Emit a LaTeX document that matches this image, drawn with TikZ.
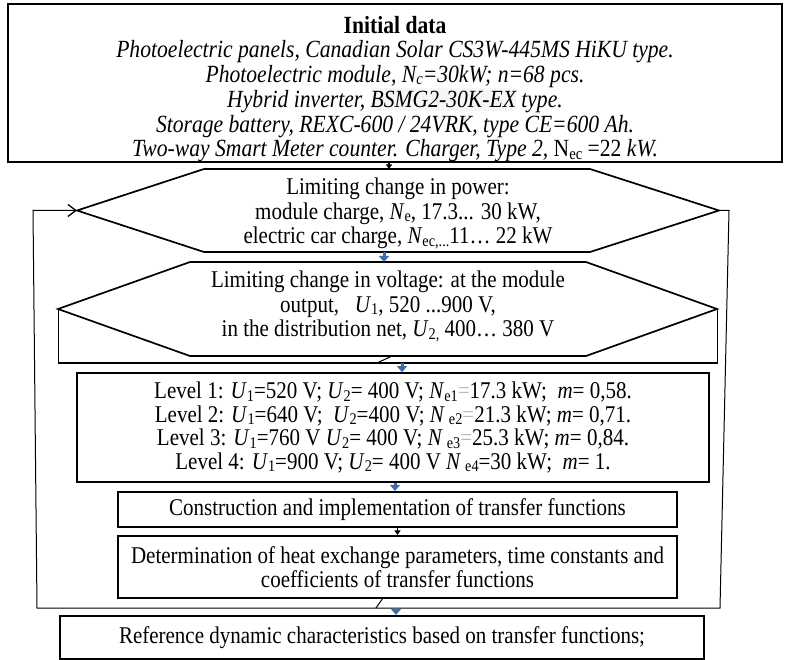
\documentclass[tikz,border=0pt]{standalone}
\usepackage{fontspec}
\usepackage{graphicx}
\setmainfont{Liberation Serif}[FakeStretch=0.875]
\usetikzlibrary{arrows.meta,calc}
% small lowered index text
\newcommand\sbs[1]{\raisebox{-0.11em}{\scalebox{0.68}{#1}}}
\definecolor{flowblue}{RGB}{62,108,168}
\begin{document}
\begin{tikzpicture}[x=1pt,y=-1pt,
  txt/.style={font=\fontsize{24}{23.5}\selectfont, align=center, inner sep=0pt},
  hextxt/.style={font=\fontsize{24}{24.5}\selectfont, align=center, inner sep=0pt},
  toptxt/.style={font=\fontsize{24.7}{24.5}\selectfont, align=center, inner sep=0pt},
  boxframe/.style={draw, line width=2pt, inner sep=0pt},
  hexline/.style={draw, line width=1.7pt, line join=miter},
  thinline/.style={draw, line width=1pt},
  blkarrow/.style={draw, line width=1.3pt, -{Triangle[length=4.5pt,width=6pt]}},
  bluearrow/.style={draw=flowblue, line width=3pt, -{Triangle[length=6pt,width=10pt]}, color=flowblue},
  loopline/.style={draw, line width=1pt},
]
\useasboundingbox (0,0) rectangle (790,660);

% Input data block
\node[boxframe, line width=2.4pt, minimum width=774pt, minimum height=158pt] (init) at (395,83) {};
\node[toptxt] (initText) at (395,89) {%
  \textbf{Initial data}\\
  \textit{Photoelectric panels, Canadian Solar CS3W-445MS HiKU type.}\\
  \textit{Photoelectric module, N\sbs{c}=30kW; n=68 pcs.}\\
  \textit{Hybrid inverter, \colorbox{gray!7}{\kern-3pt BSMG2-30K-EX\kern-3pt} type.}\\
  \textit{Storage battery, REXC-600 / 24VRK, type CE=600 Ah.}\\
  \textit{Two-way Smart Meter counter. Charger, Type 2,} N\sbs{ec} =22 \textit{kW.}};

% Power limits hexagon
\coordinate (h1L)  at (77,210.5);
\coordinate (h1TL) at (204,169);
\coordinate (h1TR) at (590,169);
\coordinate (h1R)  at (719,210.5);
\coordinate (h1BR) at (590,252);
\coordinate (h1BL) at (204,252);
\draw[hexline] (h1L) -- (h1TL) -- (h1TR) -- (h1R) -- (h1BR) -- (h1BL) -- cycle;
\node[hextxt] (h1Text) at (398,213.5) {%
  Limiting change in power:\\
  module charge, \textit{N}\sbs{e}, 17.3... 30 kW,\\
  electric car charge, \textit{N}\sbs{ec,...}11… 22 kW};

% Voltage limits hexagon with its frame
\coordinate (h2L)  at (58,309);
\coordinate (h2TL) at (190,262);
\coordinate (h2TR) at (586,262);
\coordinate (h2R)  at (717,309);
\coordinate (h2BR) at (586,356);
\coordinate (h2BL) at (190,356);
\draw[hexline] (h2L) -- (h2TL) -- (h2TR) -- (h2R) -- (h2BR) -- (h2BL) -- cycle;
\coordinate (f2BL) at (58,363);
\coordinate (f2BR) at (717,363);
\draw[thinline] (h2L) -- (f2BL) -- (f2BR) -- (h2R);
\coordinate (h2out) at (392,356);
\draw[thinline] (h2out) -- ($(h2out)+(-15,7)$);
\node[hextxt] (h2Text) at (388,306.5) {%
  Limiting change in voltage: at the module\\
  output,\ \ \ \textit{U}\sbs{1}, 520 ...900 V,\\
  in the distribution net, \textit{U}\sbs{2,} 400… 380 V};

% Operating levels
\node[boxframe, line width=1.7pt, minimum width=632pt, minimum height=109pt, txt] (lev) at (393,427.5) {%
  Level 1: \textit{U}\sbs{1}=520 V; \textit{U}\sbs{2}= 400 V; \textit{N}\sbs{e1}\textcolor{gray!55}{=}17.3 kW;\ \ \textit{m}= 0,58.\\
  Level 2: \textit{U}\sbs{1}=640 V;\ \ \textit{U}\sbs{2}=400 V; \textit{N}\,\sbs{e2}\textcolor{gray!55}{=}21.3 kW; \textit{m}= 0,71.\\
  Level 3: \textit{U}\sbs{1}=760 V \textit{U}\sbs{2}= 400 V; \textit{N}\,\sbs{e3}\textcolor{gray!55}{=}25.3 kW; \textit{m}= 0,84.\\
  Level 4: \textit{U}\sbs{1}=900 V; \textit{U}\sbs{2}= 400 V \textit{N}\,\sbs{e4}=30 kW;\ \ \textit{m}= 1.};

\node[boxframe, line width=2.2pt, minimum width=559pt, minimum height=35pt, txt] (con) at (397.5,509.5)
  {Construction and implementation of transfer functions};
\node[boxframe, line width=2.2pt, minimum width=559pt, minimum height=62pt, txt] (det) at (397.5,567)
  {Determination of heat exchange parameters, time constants and\\coefficients of transfer functions};
\node[boxframe, line width=2.2pt, minimum width=644pt, minimum height=43pt, txt] (ref) at (382,637.5)
  {Reference dynamic characteristics based on transfer functions;};

% Feedback loop back to the power limits
\coordinate (lpR)  at (729,210.5);
\coordinate (lpRB) at (720,608);
\coordinate (lpLB) at (37,608);
\coordinate (lpLT) at (33,210.5);
\draw[loopline, -{Straight Barb[length=8pt,width=12pt,line width=1.3pt]}]
  (h1R) -- (lpR) -- (lpRB) -- (lpLB) -- (lpLT) -- (h1L);
\coordinate (detOut) at (383,598);
\draw[loopline] (detOut) -- ($(detOut)+(-7,10)$);

% Flow arrows
\coordinate (a1) at (389,169);
\draw[blkarrow] (init.south -| a1) -- (a1);
\coordinate (b1) at (384,252);
\coordinate (b2) at (384,262);
\draw[bluearrow] (b1) -- (b2);
\coordinate (b3) at (402,363);
\draw[bluearrow] (b3) -- (b3 |- lev.north);
\draw[bluearrow] ([xshift=2pt]lev.south) -- ([xshift=2pt]lev.south |- con.north);
\draw[blkarrow] (con.south) -- (det.north);
\coordinate (b4) at (396,608);
\draw[bluearrow] (b4) -- (b4 |- ref.north);
\end{tikzpicture}
\end{document}
